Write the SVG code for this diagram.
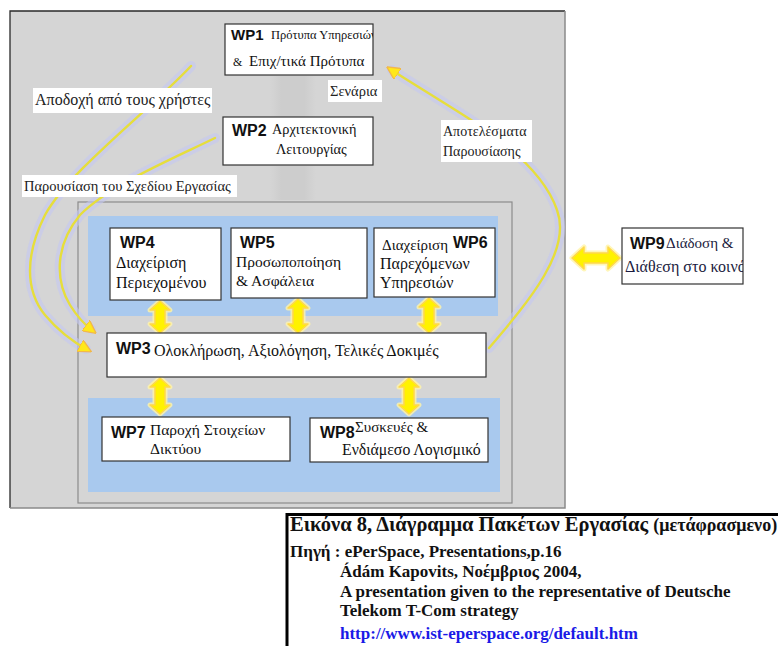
<svg xmlns="http://www.w3.org/2000/svg" width="778" height="646" viewBox="0 0 778 646">
  <defs>
    <style>
      .wp { font-family: "Liberation Sans", Arial, sans-serif; font-weight: bold; font-size: 16px; fill: #111; }
      .tx { font-family: "Liberation Serif", "Times New Roman", "DejaVu Serif", serif; font-size: 16px; fill: #111; }
      .lbl { font-family: "Liberation Serif", "Times New Roman", "DejaVu Serif", serif; font-size: 14.5px; fill: #222; }
      .box { fill: #fff; stroke: #333; stroke-width: 1.2; }
      .tag { fill: #fff; stroke: none; }
      .band { fill: #a9c9ee; }
      .halo { fill: none; stroke: #c4c8f2; stroke-width: 10; stroke-opacity: 0.6; stroke-linecap: round; }
      .flow { fill: none; stroke: #e6de3c; stroke-width: 2.4; stroke-linecap: round; }
      .dbl { fill: #fff200; stroke: #ffd84a; stroke-width: 1.5; stroke-linejoin: round; }
      .dblglow { fill: none; stroke: #fff4a8; stroke-width: 5; stroke-opacity: 0.8; stroke-linejoin: round; }
      .cap { font-family: "Liberation Serif", "Times New Roman", "DejaVu Serif", serif; font-weight: bold; font-size: 17px; fill: #111; }
    </style>
    <marker id="tip" viewBox="0 0 10 10" refX="7" refY="5" markerWidth="5.5" markerHeight="5.5" orient="auto" markerUnits="strokeWidth">
      <path d="M0,0 L10,5 L0,10 Z" fill="#ffe81a" stroke="#f2b84a" stroke-width="1"/>
    </marker>
    <linearGradient id="shaft" x1="0" y1="0" x2="1" y2="0">
      <stop offset="0" stop-color="#cccccc" stop-opacity="0"/>
      <stop offset="0.25" stop-color="#cbcbcb" stop-opacity="0.8"/>
      <stop offset="0.75" stop-color="#cbcbcb" stop-opacity="0.8"/>
      <stop offset="1" stop-color="#cccccc" stop-opacity="0"/>
    </linearGradient>
    <clipPath id="clipWp1"><rect x="225" y="24" width="148" height="51"/></clipPath>
    <clipPath id="clipWp9"><rect x="622" y="228" width="121" height="56"/></clipPath>
  </defs>

  <rect width="778" height="646" fill="#fff"/>

  <!-- outer work-package panel -->
  <g id="panel">
    <rect x="10" y="11" width="555" height="497" fill="#d5d5d5"/>
    <path d="M10,508 L10,11 L565,11" fill="none" stroke="#2a2a2a" stroke-width="1.3"/>
    <path d="M565,11 L565,508 L10,508" fill="none" stroke="#8a8a8a" stroke-width="1.5"/>
    <rect x="78" y="202" width="434" height="301" fill="#d5d5d5" stroke="#8c8c8c" stroke-width="1.2"/>
    <rect class="band" x="88" y="216" width="410" height="100"/>
    <rect class="band" x="88" y="398" width="412" height="94"/>
    <!-- faint grey flow arrows WP1 -> WP2 -> panel -->
    <rect x="270" y="76" width="46" height="41" fill="url(#shaft)"/>
    <rect x="270" y="166" width="46" height="34" fill="url(#shaft)"/>
  </g>

  <!-- connectors -->
  <g id="connectors">
    <!-- results of presentation back to WP1 -->
    <path class="halo" d="M489,348 C530,300 572,250 557,210 C545,175 510,145 468,118 C440,100 410,82 392,70"/>
    <path class="flow" d="M489,348 C530,300 572,250 557,210 C545,175 510,145 468,118 C440,100 410,82 390,69" marker-end="url(#tip)"/>
    <!-- user acceptance into WP3 -->
    <path class="halo" d="M191,66 C150,110 70,170 45,215 C25,255 25,290 45,315 C60,333 75,343 86,349"/>
    <path class="flow" d="M191,66 C150,110 70,170 45,215 C25,255 25,290 45,315 C60,333 75,343 88,350" marker-end="url(#tip)"/>
    <!-- presentation of the work plan into WP3 -->
    <path class="halo" d="M215,138 C170,160 110,185 80,215 C55,245 55,280 70,305 C78,318 85,325 91,329"/>
    <path class="flow" d="M215,138 C170,160 110,185 80,215 C55,245 55,280 70,305 C78,318 85,325 93,331" marker-end="url(#tip)"/>

    <!-- two-way links -->
    <g id="dbl-wp4-wp3">
      <path class="dblglow" d="M160,301 L170,310 L165,310 L165,324 L170,324 L160,333 L150,324 L155,324 L155,310 L150,310 Z"/>
      <path class="dbl" d="M160,301 L170,310 L165,310 L165,324 L170,324 L160,333 L150,324 L155,324 L155,310 L150,310 Z"/>
    </g>
    <g id="dbl-wp5-wp3">
      <path class="dblglow" d="M298,299 L308,308 L303,308 L303,324 L308,324 L298,333 L288,324 L293,324 L293,308 L288,308 Z"/>
      <path class="dbl" d="M298,299 L308,308 L303,308 L303,324 L308,324 L298,333 L288,324 L293,324 L293,308 L288,308 Z"/>
    </g>
    <g id="dbl-wp6-wp3">
      <path class="dblglow" d="M429,298 L439,307 L434,307 L434,324 L439,324 L429,333 L419,324 L424,324 L424,307 L419,307 Z"/>
      <path class="dbl" d="M429,298 L439,307 L434,307 L434,324 L439,324 L429,333 L419,324 L424,324 L424,307 L419,307 Z"/>
    </g>
    <g id="dbl-wp3-wp7">
      <path class="dblglow" d="M160,378 L170,387 L165,387 L165,405 L170,405 L160,414 L150,405 L155,405 L155,387 L150,387 Z"/>
      <path class="dbl" d="M160,378 L170,387 L165,387 L165,405 L170,405 L160,414 L150,405 L155,405 L155,387 L150,387 Z"/>
    </g>
    <g id="dbl-wp3-wp8">
      <path class="dblglow" d="M409,378 L419,387 L414,387 L414,405 L419,405 L409,414 L399,405 L404,405 L404,387 L399,387 Z"/>
      <path class="dbl" d="M409,378 L419,387 L414,387 L414,405 L419,405 L409,414 L399,405 L404,405 L404,387 L399,387 Z"/>
    </g>
    <g id="dbl-panel-wp9">
      <path class="dblglow" d="M572,258 L584,247 L584,253 L608,253 L608,247 L620,258 L608,269 L608,263 L584,263 L584,269 Z"/>
      <path class="dbl" d="M572,258 L584,247 L584,253 L608,253 L608,247 L620,258 L608,269 L608,263 L584,263 L584,269 Z"/>
    </g>
  </g>

  <!-- connector labels -->
  <g id="labels">
    <rect class="tag" x="33" y="88" width="179" height="25"/>
    <text class="lbl" x="35" y="105" style="font-size:16px">Αποδοχή από τους χρήστες</text>
    <rect class="tag" x="328" y="80" width="54" height="22"/>
    <text class="lbl" x="330" y="96">Σενάρια</text>
    <rect class="tag" x="22" y="175" width="215" height="22"/>
    <text class="lbl" x="24" y="191">Παρουσίαση του Σχεδίου Εργασίας</text>
    <rect class="tag" x="441" y="120" width="91" height="42"/>
    <text class="lbl" x="443" y="136" style="font-size:14px">Αποτελέσματα</text>
    <text class="lbl" x="443" y="156" style="font-size:14px">Παρουσίασης</text>
  </g>

  <g id="wp1">
    <rect class="box" x="225" y="24" width="148" height="51"/>
    <text class="wp" x="231" y="40" style="font-size:15px">WP1</text>
    <g clip-path="url(#clipWp1)">
      <text class="tx" x="271" y="39" style="font-size:12.5px">Πρότυπα Υπηρεσιών</text>
    </g>
    <text class="tx" x="233" y="66" style="font-size:12px">&amp;</text>
    <text class="tx" x="249" y="66" style="font-size:15px">Επιχ/τικά Πρότυπα</text>
  </g>

  <g id="wp2">
    <rect class="box" x="223" y="117" width="150" height="48"/>
    <text class="wp" x="232" y="136">WP2</text>
    <text class="tx" x="272" y="134" style="font-size:14.3px">Αρχιτεκτονική</text>
    <text class="tx" x="276" y="154" style="font-size:14.3px">Λειτουργίας</text>
  </g>

  <g id="wp4">
    <rect class="box" x="110" y="228" width="111" height="72"/>
    <text class="wp" x="120" y="248">WP4</text>
    <text class="tx" x="116" y="268">Διαχείριση</text>
    <text class="tx" x="116" y="288">Περιεχομένου</text>
  </g>

  <g id="wp5">
    <rect class="box" x="231" y="228" width="136" height="70"/>
    <text class="wp" x="240" y="248">WP5</text>
    <text class="tx" x="236" y="267" style="font-size:15.5px">Προσωποποίηση</text>
    <text class="tx" x="236" y="286" style="font-size:15.5px">&amp; Ασφάλεια</text>
  </g>

  <g id="wp6">
    <rect class="box" x="374" y="228" width="121" height="69"/>
    <text class="tx" x="382" y="250" style="font-size:15px">Διαχείριση</text>
    <text class="wp" x="453" y="248">WP6</text>
    <text class="tx" x="380" y="269">Παρεχόμενων</text>
    <text class="tx" x="380" y="288">Υπηρεσιών</text>
  </g>

  <g id="wp3">
    <rect class="box" x="107" y="333" width="379" height="44"/>
    <text class="wp" x="116" y="354">WP3</text>
    <text class="tx" x="154" y="356">Ολοκλήρωση, Αξιολόγηση, Τελικές Δοκιμές</text>
  </g>

  <g id="wp7">
    <rect class="box" x="102" y="417" width="188" height="44"/>
    <text class="wp" x="111" y="438">WP7</text>
    <text class="tx" x="150" y="435" style="font-size:15.5px">Παροχή Στοιχείων</text>
    <text class="tx" x="150" y="454" style="font-size:15.5px">Δικτύου</text>
  </g>

  <g id="wp8">
    <rect class="box" x="310" y="418" width="178" height="44"/>
    <text class="wp" x="320" y="438">WP8</text>
    <text class="tx" x="355" y="432" style="font-size:15px">Συσκευές &amp;</text>
    <text class="tx" x="342" y="455" style="font-size:15.8px">Ενδιάμεσο Λογισμικό</text>
  </g>

  <g id="wp9">
    <rect class="box" x="622" y="228" width="121" height="56"/>
    <text class="wp" x="630" y="249">WP9</text>
    <g clip-path="url(#clipWp9)">
      <text class="tx" x="666" y="248" style="font-size:15px;fill:#1c1c40">Διάδοση  &amp;</text>
      <text class="tx" x="625" y="272" style="font-size:16px;fill:#1c1c40">Διάθεση στο κοινό</text>
    </g>
  </g>

  <!-- figure caption -->
  <g id="caption">
    <path d="M287,646 L287,514.5 L778,514.5" fill="none" stroke="#000" stroke-width="3"/>
    <text class="cap" x="290" y="531" style="font-size:20.5px">Εικόνα 8, Διάγραμμα Πακέτων Εργασίας <tspan style="font-size:18px">(μετάφρασμενο)</tspan></text>
    <text class="cap" x="290" y="557">Πηγή : ePerSpace, Presentations,p.16</text>
    <text class="cap" x="340" y="577">Ádám Kapovits, Νοέμβριος 2004,</text>
    <text class="cap" x="340" y="597">A presentation given to the representative of Deutsche</text>
    <text class="cap" x="340" y="616">Telekom T-Com strategy</text>
    <text class="cap" x="340" y="639" style="fill:#1a1ae6">http://www.ist-eperspace.org/default.htm</text>
  </g>
</svg>
